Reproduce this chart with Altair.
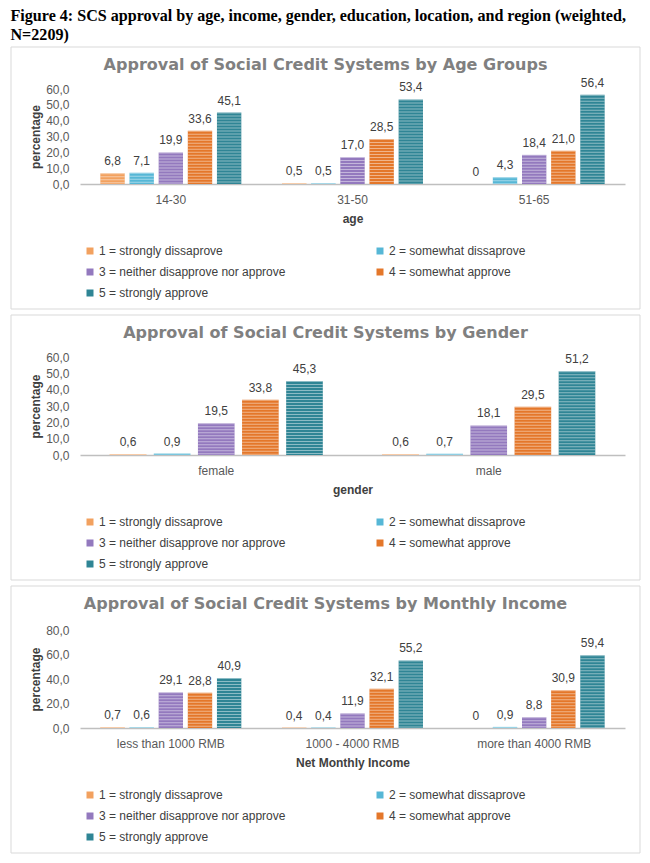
import altair as alt
import pandas as pd

responses = [
    "1 = strongly dissaprove",
    "2 = somewhat dissaprove",
    "3 = neither disapprove nor approve",
    "4 = somewhat approve",
    "5 = strongly approve",
]
colors = ["#F2A15F", "#56B7D6", "#9379BE", "#E4772A", "#2F8595"]

age_groups = ["14-30", "31-50", "51-65"]
age_values = [
    [6.8, 7.1, 19.9, 33.6, 45.1],
    [0.5, 0.5, 17.0, 28.5, 53.4],
    [0, 4.3, 18.4, 21.0, 56.4],
]
gender_groups = ["female", "male"]
gender_values = [
    [0.6, 0.9, 19.5, 33.8, 45.3],
    [0.6, 0.7, 18.1, 29.5, 51.2],
]
income_groups = ["less than 1000 RMB", "1000 - 4000 RMB", "more than 4000 RMB"]
income_values = [
    [0.7, 0.6, 29.1, 28.8, 40.9],
    [0.4, 0.4, 11.9, 32.1, 55.2],
    [0, 0.9, 8.8, 30.9, 59.4],
]

FONT = "Liberation Sans"
W = 545


def panel(groups, values, title, xtitle, ymax, ystep, h, pad_in, off_in, top_off):
    rows = []
    for g, vals in zip(groups, values):
        for r, v in zip(responses, vals):
            rows.append({"group": g, "response": r, "value": v})
    df = pd.DataFrame(rows)
    n = len(groups)
    step = W / n
    bw = step * (1 - pad_in)
    ostep = bw / (5 - off_in)
    obw = ostep * (1 - off_in)

    x = alt.X(
        "group:N",
        sort=groups,
        scale=alt.Scale(paddingInner=pad_in, paddingOuter=pad_in / 2),
        axis=alt.Axis(
            title=xtitle, labelAngle=0, ticks=False, labelPadding=10,
            labelFontSize=12, labelColor="#595959", labelFont=FONT,
            domainColor="#BFBFBF", domainWidth=1.5,
            titleFontSize=12, titleFontWeight="bold", titleColor="#404040",
            titleFont=FONT, titlePadding=8,
        ),
    )
    xo = alt.XOffset(
        "response:N", sort=responses,
        scale=alt.Scale(paddingInner=off_in, paddingOuter=0),
    )
    y = alt.Y(
        "value:Q",
        scale=alt.Scale(domain=[0, ymax], nice=False),
        axis=alt.Axis(
            title="percentage", values=list(range(0, ymax + 1, ystep)),
            labelExpr="replace(format(datum.value, '.1f'), '.', ',')",
            domain=False, ticks=False, grid=False, labelPadding=11,
            labelFontSize=12, labelColor="#595959", labelFont=FONT,
            titleFontSize=12, titleFontWeight="bold", titleColor="#404040",
            titleFont=FONT, titlePadding=3,
        ),
    )
    base = alt.Chart(df)

    frame = alt.Chart(alt.Data(values=[{}])).mark_rect(
        fill="transparent", stroke="#D9D9D9", strokeWidth=1
    ).encode(
        x=alt.value(-69), x2=alt.value(560),
        y=alt.value(-top_off), y2=alt.value(h + 125),
    )

    bars = base.mark_bar().encode(
        x=x, xOffset=xo, y=y,
        color=alt.Color(
            "response:N", sort=responses,
            scale=alt.Scale(domain=responses, range=colors),
            legend=alt.Legend(
                title=None, orient="none", legendX=4, legendY=h + 61,
                direction="horizontal",
                columns=2, columnPadding=88, rowPadding=9,
                symbolType="square", symbolSize=49, symbolStrokeWidth=0,
                labelFontSize=12, labelColor="#404040", labelFont=FONT,
                labelLimit=400, labelOffset=3, padding=0,
            ),
        ),
    )
    stripes = base.mark_rule(
        color="white", strokeWidth=obw, strokeDash=[1, 2], opacity=0.45
    ).encode(x=x, xOffset=xo, y=y, y2=alt.datum(0))

    labels = base.mark_text(
        fontSize=12, color="#404040", font=FONT, baseline="middle", dy=-12
    ).transform_calculate(
        lab="datum.value == 0 ? '0' : replace(format(datum.value, '.1f'), '.', ',')"
    ).encode(x=x, xOffset=xo, y=y, text="lab:N")

    return alt.layer(frame, bars, stripes, labels).properties(
        width=W, height=h,
        title=alt.TitleParams(
            title, fontSize=16, fontWeight="bold", color="#808080",
            font="DejaVu Sans",
            anchor="middle", frame="group", dx=-27, dy=34, offset=0,
            baseline="middle",
        ),
    )


p1 = panel(age_groups, age_values,
           "Approval of Social Credit Systems by Age Groups", "age",
           60, 10, 95, 0.224, 0.164, 42)
p2 = panel(gender_groups, gender_values,
           "Approval of Social Credit Systems by Gender", "gender",
           60, 10, 98, 0.218, 0.17, 42)
p3 = panel(income_groups, income_values,
           "Approval of Social Credit Systems by Monthly Income", "Net Monthly Income",
           80, 20, 98, 0.224, 0.164, 44)

chart = alt.vconcat(p1, p2, p3, spacing=4).resolve_scale(
    x="independent", y="independent", color="independent", xOffset="independent"
).resolve_legend(color="independent").properties(
    title=alt.TitleParams(
        ["Figure 4: SCS approval by age, income, gender, education, location, and region (weighted,",
         "N=2209)"],
        font="Liberation Serif", fontSize=16.1, fontWeight="bold", color="#000000",
        anchor="start", frame="bounds", lineHeight=19, offset=3,
    ),
    padding={"left": 2, "top": 0, "right": 0, "bottom": 0},
).configure_view(strokeOpacity=0)

chart.save("out.html", embed_options={"renderer": "svg", "actions": False})
